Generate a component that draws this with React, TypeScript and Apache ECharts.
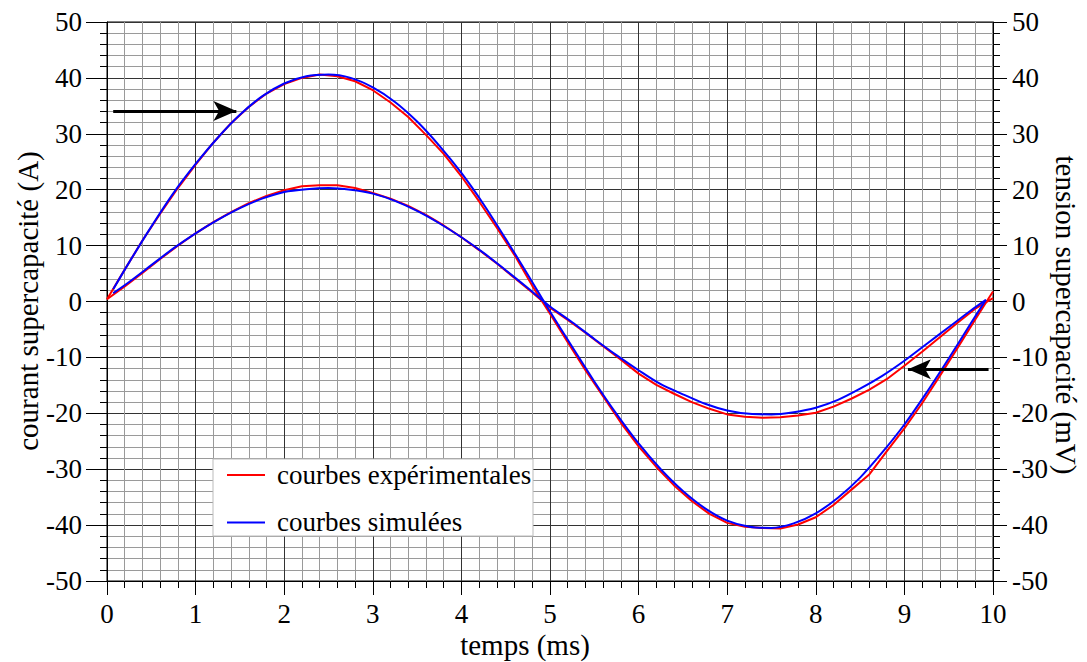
import React, { useEffect, useRef } from "react";
import * as echarts from "echarts";

// Time axis ticks (ms) and value axis ticks (A / mV)
const xTicks = [0, 1, 2, 3, 4, 5, 6, 7, 8, 9, 10];
const yTicks = [-50, -40, -30, -20, -10, 0, 10, 20, 30, 40, 50];

// Simulated curves (blue)
const simTime = [0.07, 0.25, 0.5, 0.75, 1, 1.25, 1.5, 1.75, 2, 2.25, 2.5, 2.75, 3, 3.25, 3.5, 3.75, 4, 4.25, 4.5, 4.75, 5, 5.25, 5.5, 5.75, 6, 6.25, 6.5, 6.75, 7, 7.25, 7.5, 7.75, 8, 8.25, 8.5, 8.75, 9, 9.25, 9.5, 9.75, 9.92];
const simCurrent = [2.2, 7.0, 13.4, 19.4, 24.6, 29.3, 33.4, 36.7, 39.0, 40.3, 40.6, 40.0, 38.3, 35.7, 32.2, 27.9, 23.0, 17.4, 11.2, 4.8, -1.8, -8.1, -14.3, -20.1, -25.4, -30.0, -33.9, -37.0, -39.2, -40.3, -40.5, -39.7, -37.9, -35.1, -31.5, -27.0, -22.0, -16.3, -10.2, -3.9, 0.3];
const simVoltage = [1.5, 3.5, 6.5, 9.5, 12.2, 14.6, 16.7, 18.4, 19.6, 20.1, 20.3, 20.0, 19.3, 18.0, 16.2, 14.0, 11.5, 8.7, 5.6, 2.4, -0.9, -3.7, -6.7, -9.6, -12.3, -14.8, -16.6, -18.3, -19.5, -20.1, -20.2, -19.8, -19.0, -17.6, -15.6, -13.3, -10.6, -7.6, -4.6, -1.6, 0.3];

// Experimental curves (red)
const expTime = [0, 0.2, 0.4, 0.6, 0.8, 1, 1.2, 1.4, 1.6, 1.8, 2, 2.2, 2.4, 2.6, 2.8, 3, 3.2, 3.4, 3.6, 3.8, 4, 4.2, 4.4, 4.6, 4.8, 5, 5.2, 5.4, 5.6, 5.8, 6, 6.2, 6.4, 6.6, 6.8, 7, 7.2, 7.4, 7.6, 7.8, 8, 8.2, 8.4, 8.6, 8.8, 9, 9.2, 9.4, 9.6, 9.8, 10];
const expCurrent = [0.4, 5.7, 10.9, 15.7, 20.3, 24.5, 28.4, 31.9, 34.8, 37.2, 38.9, 40.0, 40.6, 40.3, 39.4, 37.8, 35.6, 33.0, 29.8, 26.4, 22.4, 17.9, 13.2, 8.3, 2.8, -2.2, -7.3, -12.3, -17.0, -21.7, -25.9, -29.6, -32.9, -35.7, -38.0, -39.6, -40.3, -40.5, -40.6, -39.9, -38.6, -36.4, -33.7, -31.0, -26.8, -22.7, -18.2, -13.3, -8.3, -3.2, 1.8];
const expVoltage = [0.4, 2.7, 5.1, 7.6, 10.0, 12.2, 14.2, 16.0, 17.6, 18.9, 19.9, 20.6, 20.8, 20.8, 20.3, 19.4, 18.4, 17.1, 15.5, 13.6, 11.5, 9.2, 6.8, 4.2, 1.6, -1.1, -3.3, -5.6, -8.0, -10.4, -12.9, -14.9, -16.5, -18.0, -19.2, -20.2, -20.6, -20.8, -20.7, -20.4, -19.9, -18.8, -17.4, -15.8, -13.9, -11.5, -9.0, -6.4, -3.8, -1.3, 0.6];

// Arrows: [t, value] start and end (end carries the head)
const arrowCurrent = [[0.07, 34.1], [1.46, 34.1]];
const arrowVoltage = [[9.95, -12.1], [9.04, -12.1]];

const FONT = "'Liberation Serif', 'Times New Roman', serif";
const FS = 27;
const TITLE_FS = 29;

const pair = (xs: number[], ys: number[]) => xs.map((x, i) => [x, ys[i]]);

function buildOption(): any {
  const axisCommon = {
    type: "value",
    axisLine: { show: true, onZero: false, lineStyle: { color: "#000", width: 1 } },
    axisLabel: { fontFamily: FONT, fontSize: FS, color: "#000" },
  };
  const arrowMark = (pts: number[][]) => ({
    silent: true,
    symbol: ["none", "arrow"],
    symbolSize: [15, 23],
    label: { show: false },
    lineStyle: { color: "#000", width: 3, type: "solid" },
    emphasis: { disabled: true },
    data: [[{ coord: pts[0] }, { coord: pts[1] }]],
  });
  const lineSeries = (name: string, data: number[][], color: string, yIdx: number, smooth: any, z: number, mark?: any) => ({
    name,
    type: "line",
    yAxisIndex: yIdx,
    data,
    showSymbol: false,
    smooth,
    z,
    lineStyle: { color, width: 2 },
    itemStyle: { color },
    emphasis: { disabled: true },
    ...(mark ? { markLine: mark } : {}),
  });
  const Z = 100;
  return {
    animation: false,
    backgroundColor: "#fff",
    grid: { left: 107, right: 94, top: 22, bottom: 81, show: true, borderColor: "#000", borderWidth: 1, backgroundColor: "transparent" },
    xAxis: {
      ...axisCommon,
      min: xTicks[0],
      max: xTicks[xTicks.length - 1],
      interval: xTicks[1] - xTicks[0],
      axisTick: { show: true, inside: false, length: 14, lineStyle: { color: "#000" } },
      minorTick: { show: true, splitNumber: 5, length: 7, lineStyle: { color: "#000" } },
      splitLine: { show: true, lineStyle: { color: "#333", width: 1 } },
      minorSplitLine: { show: true, lineStyle: { color: "#9a9a9a", width: 1 } },
      axisLabel: { ...axisCommon.axisLabel, margin: 19 },
    },
    yAxis: [
      {
        ...axisCommon,
        position: "left",
        min: yTicks[0],
        max: yTicks[yTicks.length - 1],
        interval: yTicks[1] - yTicks[0],
        axisTick: { show: true, inside: false, length: 21, lineStyle: { color: "#000" } },
        minorTick: { show: true, splitNumber: 5, length: 7, lineStyle: { color: "#000" } },
        splitLine: { show: true, lineStyle: { color: "#333", width: 1 } },
        minorSplitLine: { show: true, lineStyle: { color: "#9a9a9a", width: 1 } },
        axisLabel: { ...axisCommon.axisLabel, margin: 25 },
      },
      {
        ...axisCommon,
        position: "right",
        min: yTicks[0],
        max: yTicks[yTicks.length - 1],
        interval: yTicks[1] - yTicks[0],
        axisTick: { show: true, inside: false, length: 14, lineStyle: { color: "#000" } },
        minorTick: { show: true, splitNumber: 5, length: 7, lineStyle: { color: "#000" } },
        splitLine: { show: false },
        minorSplitLine: { show: false },
        axisLabel: { ...axisCommon.axisLabel, margin: 19 },
      },
    ],
    series: [
      lineSeries("courbes expérimentales", pair(expTime, expCurrent), "#ff0000", 0, false, 2),
      lineSeries("courbes expérimentales", pair(expTime, expVoltage), "#ff0000", 1, false, 2),
      lineSeries("courbes simulées", pair(simTime, simCurrent), "#0000ff", 0, 0.3, 3, arrowMark(arrowCurrent)),
      lineSeries("courbes simulées", pair(simTime, simVoltage), "#0000ff", 1, 0.3, 3, arrowMark(arrowVoltage)),
    ],
    graphic: [
      { type: "rect", z: Z, shape: { x: 213, y: 459, width: 320, height: 77 }, style: { fill: "#fff", stroke: "#bbb", lineWidth: 1 } },
      { type: "line", z: Z + 1, shape: { x1: 227, y1: 475, x2: 265, y2: 475 }, style: { stroke: "#ff0000", lineWidth: 2 } },
      { type: "line", z: Z + 1, shape: { x1: 227, y1: 522.5, x2: 265, y2: 522.5 }, style: { stroke: "#0000ff", lineWidth: 2 } },
      { type: "text", z: Z + 1, x: 277, y: 475, style: { text: "courbes expérimentales", font: `${FS}px ${FONT}`, fill: "#000", verticalAlign: "middle", align: "left" } },
      { type: "text", z: Z + 1, x: 277, y: 522, style: { text: "courbes simulées", font: `${FS}px ${FONT}`, fill: "#000", verticalAlign: "middle", align: "left" } },
      { type: "text", z: Z, x: 525, y: 645, style: { text: "temps (ms)", font: `${TITLE_FS}px ${FONT}`, fill: "#000", align: "center", verticalAlign: "middle" } },
      { type: "text", z: Z, x: 28, y: 301, rotation: Math.PI / 2, style: { text: "courant supercapacité (A)", font: `${TITLE_FS}px ${FONT}`, fill: "#000", align: "center", verticalAlign: "middle" } },
      { type: "text", z: Z, x: 1066, y: 315, rotation: -Math.PI / 2, style: { text: "tension supercapacité (mV)", font: `${TITLE_FS}px ${FONT}`, fill: "#000", align: "center", verticalAlign: "middle" } },
    ],
  };
}

export default function App() {
  const ref = useRef<HTMLDivElement>(null);
  useEffect(() => {
    if (!ref.current) return;
    const chart = echarts.init(ref.current, null, { renderer: "svg" });
    chart.setOption(buildOption());
    return () => chart.dispose();
  }, []);
  return <div ref={ref} style={{ position: "fixed", left: 0, top: 0, width: 1087, height: 662, background: "#fff" }} />;
}
